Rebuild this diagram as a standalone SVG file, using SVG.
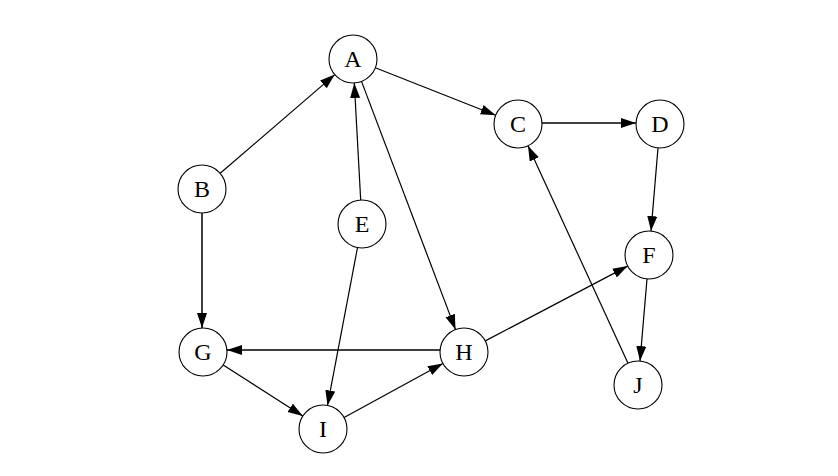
<svg xmlns="http://www.w3.org/2000/svg" width="838" height="476" viewBox="0 0 838 476">
<style>
.n circle{fill:#fff;stroke:#000;stroke-width:1.1}
.n text{font-family:"Liberation Serif","DejaVu Serif",serif;font-size:24px;text-anchor:middle;dominant-baseline:central;fill:#000}
.e line{stroke:#000;stroke-width:1.2;marker-end:url(#ah)}
</style>
<defs>
<marker id="ah" markerUnits="userSpaceOnUse" markerWidth="17" markerHeight="11" refX="15" refY="5" orient="auto">
<path d="M0,0 L15,5 L0,10 z" fill="#000"/>
</marker>
</defs>
<rect width="838" height="476" fill="#fff"/>
<g id="edges" class="e">
<line x1="220.2" y1="173.3" x2="334.8" y2="74.6"/>
<line x1="375.3" y1="67.8" x2="495.7" y2="115.2"/>
<line x1="542" y1="123" x2="636" y2="123" style="stroke-width:1.6"/>
<line x1="658" y1="147.9" x2="651" y2="231.1"/>
<line x1="647" y1="278.9" x2="640" y2="361.1"/>
<line x1="628" y1="363.2" x2="528" y2="145.8"/>
<line x1="361.5" y1="81.4" x2="455.5" y2="329.6"/>
<line x1="360.7" y1="200" x2="354.3" y2="83"/>
<line x1="357.5" y1="247.6" x2="327.5" y2="405.4"/>
<line x1="202" y1="213" x2="202" y2="328" style="stroke-width:1.5"/>
<line x1="440" y1="350" x2="227" y2="350" style="stroke-width:1.5"/>
<line x1="223.2" y1="365" x2="302.8" y2="416"/>
<line x1="344.1" y1="417.5" x2="442.9" y2="363.5"/>
<line x1="485.3" y1="340.9" x2="627.7" y2="266.1"/>
</g>
<g id="A" class="n"><circle cx="353" cy="59" r="24"/><text x="353" y="59">A</text></g>
<g id="B" class="n"><circle cx="202" cy="189" r="24"/><text x="202" y="189">B</text></g>
<g id="C" class="n"><circle cx="518" cy="124" r="24"/><text x="518" y="124">C</text></g>
<g id="D" class="n"><circle cx="660" cy="124" r="24"/><text x="660" y="124">D</text></g>
<g id="E" class="n"><circle cx="362" cy="224" r="24"/><text x="362" y="224">E</text></g>
<g id="F" class="n"><circle cx="649" cy="255" r="24"/><text x="649" y="255">F</text></g>
<g id="G" class="n"><circle cx="203" cy="352" r="24"/><text x="203" y="352">G</text></g>
<g id="H" class="n"><circle cx="464" cy="352" r="24"/><text x="464" y="352">H</text></g>
<g id="I" class="n"><circle cx="323" cy="429" r="24"/><text x="323" y="429">I</text></g>
<g id="J" class="n"><circle cx="638" cy="385" r="24"/><text x="638" y="385">J</text></g>
</svg>
